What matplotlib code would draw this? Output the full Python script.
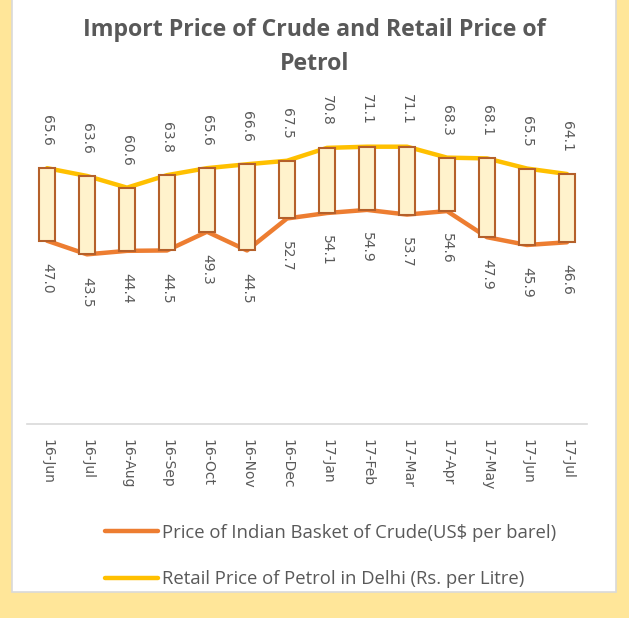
import matplotlib.pyplot as plt
import numpy as np
from matplotlib.patches import Rectangle

# data
months = ['16-Jun', '16-Jul', '16-Aug', '16-Sep', '16-Oct', '16-Nov', '16-Dec',
          '17-Jan', '17-Feb', '17-Mar', '17-Apr', '17-May', '17-Jun', '17-Jul']
crude = [47.0, 43.5, 44.4, 44.5, 49.3, 44.5, 52.7, 54.1, 54.9, 53.7, 54.6, 47.9, 45.9, 46.6]
petrol = [65.6, 63.6, 60.6, 63.8, 65.6, 66.6, 67.5, 70.8, 71.1, 71.1, 68.3, 68.1, 65.5, 64.1]

grey = '#595959'
W, H = 629, 618

fig = plt.figure(figsize=(W / 100, H / 100), dpi=100)
fig.patch.set_facecolor('#FFE699')

# white chart panel
panel = Rectangle((12 / W, 1 - 592 / H), (616 - 12) / W, 592 / H + 0.01,
                  transform=fig.transFigure, facecolor='white',
                  edgecolor='#D9D9D9', linewidth=1.2, zorder=-10)
fig.patches.append(panel)

ax = fig.add_axes([27 / W, 1 - 424 / H, 560 / W, 351 / H])
ax.set_facecolor('none')
x = np.arange(len(months))

ax.plot(x, crude, color='#ED7D31', lw=3.2, solid_capstyle='round', zorder=2,
        label='Price of Indian Basket of Crude(US$ per barel)')
ax.plot(x, petrol, color='#FFC000', lw=3.2, solid_capstyle='round', zorder=2,
        label='Retail Price of Petrol in Delhi (Rs. per Litre)')

# up/down bars
diff = np.array(petrol) - np.array(crude)
ax.bar(x, diff, bottom=crude, width=0.42, color='#FFF2CC',
       edgecolor='#B5602A', linewidth=1.5, zorder=3)

for i in range(len(months)):
    ax.annotate('%.1f' % petrol[i], (x[i], petrol[i]), xytext=(0, 16),
                textcoords='offset points', rotation=-90, ha='center', va='bottom',
                fontsize=10, color=grey)
    ax.annotate('%.1f' % crude[i], (x[i], crude[i]), xytext=(0, -16),
                textcoords='offset points', rotation=-90, ha='center', va='top',
                fontsize=10, color=grey)

ax.set_xlim(-0.5, len(months) - 0.5)
ax.set_ylim(0, 90)
ax.set_xticks(x)
ax.set_xticklabels(months, rotation=-90, fontsize=10, color=grey)
ax.tick_params(axis='x', length=0, pad=11)
ax.set_yticks([])
for s in ['top', 'left', 'right']:
    ax.spines[s].set_visible(False)
ax.spines['bottom'].set_color('#D9D9D9')
ax.spines['bottom'].set_linewidth(1.2)

fig.text(0.5, 1 - 47 / H, 'Import Price of Crude and Retail Price of\nPetrol',
         ha='center', va='center', fontsize=16.7, fontweight='bold', color=grey,
         family='Open Sans', linespacing=1.5)

leg = fig.legend(loc='upper left', bbox_to_anchor=(88 / W, 1 - 507 / H),
                 frameon=False, handlelength=2.9, handletextpad=0.2,
                 labelspacing=1.55, prop={'family': 'Open Sans', 'size': 13.3})
for t in leg.get_texts():
    t.set_color(grey)

fig.savefig('out.png', dpi=100)
